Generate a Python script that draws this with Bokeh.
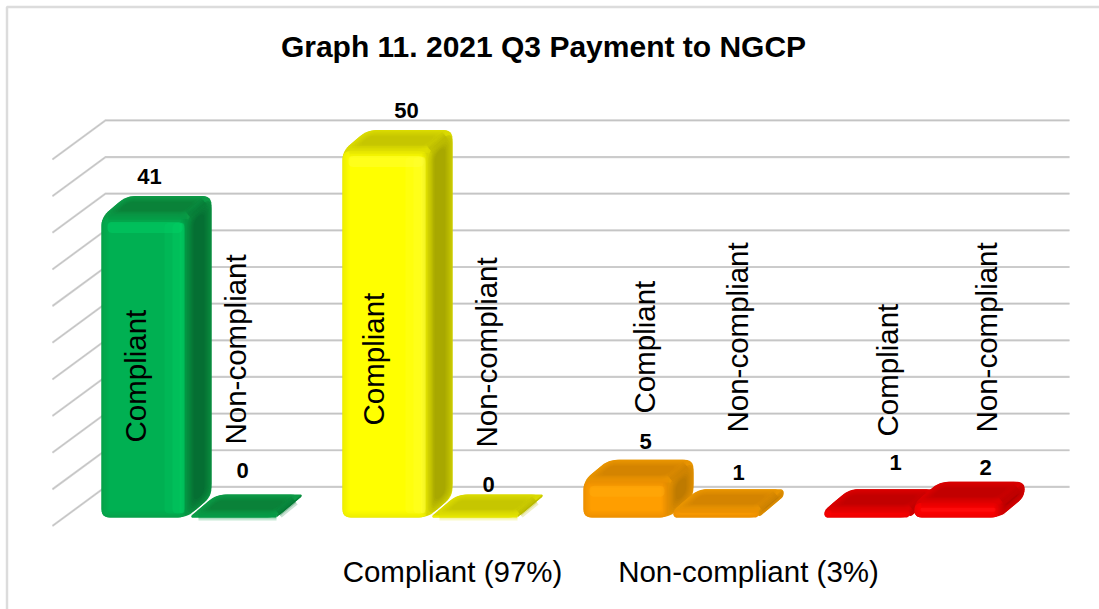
import math
from bokeh.plotting import figure
from bokeh.models import Range1d, ColumnDataSource
from bokeh.core.properties import value
from bokeh.embed import file_html
from bokeh.resources import INLINE

title_text = "Graph 11. 2021 Q3 Payment to NGCP"
series_names = ["Compliant", "Non-compliant"]
compliant_values = [41, 50, 5, 1]
noncompliant_values = [0, 0, 1, 2]
group_labels = ["Compliant (97%)", "Non-compliant (3%)"]
grid_ticks = [0, 5, 10, 15, 20, 25, 30, 35, 40, 45, 50]

# (edge, centre) colours of front; top; side per group
palettes = [
    (("#06A24A", "#00B052"), ("#0C9A46", "#0A8239"), ("#0A8A3E", "#056F33")),
    (("#EFEF00", "#FFFF00"), ("#DADA00", "#C6C600"), ("#C8C800", "#A8A800")),
    (("#EE9000", "#FF9E00"), ("#E89400", "#D48400"), ("#DC8C00", "#BE7A00")),
    (("#F00000", "#FF0000"), ("#DA0000", "#C20000"), ("#D00000", "#B00000")),
]
highlights = ["#00D868", "#FFFF40", "#FFB010", "#FF1818"]

# layout: picture pixels <-> data units
PXX, PXY = 90.0, 7.33
X0, Y0 = 101.0, 517.0
W, H = 1099, 609
def ux(px): return (px - X0) / PXX
def uy(py): return (Y0 - py) / PXY

GROUP_STEP = 241 / PXX
BAR_W, DX, DY = 85, 25, 21
BACK_DY = Y0 - 486.4
WALL_DX, WALL_DY = 53, 39
GRID_X0, GRID_X1 = 105, 1069
LAYERS = 7


def mix(a, b, t):
    ca = [int(a[i:i + 2], 16) for i in (1, 3, 5)]
    cb = [int(b[i:i + 2], 16) for i in (1, 3, 5)]
    return "#%02X%02X%02X" % tuple(round(x + (y - x) * t) for x, y in zip(ca, cb))


def rounded(pts, r):
    out = []
    n = len(pts)
    for i in range(n):
        p, a, b = pts[i], pts[i - 1], pts[(i + 1) % n]
        la = math.dist(p, a) or 1
        lb = math.dist(p, b) or 1
        rr = min(r, la / 2, lb / 2)
        s = (p[0] + (a[0] - p[0]) * rr / la, p[1] + (a[1] - p[1]) * rr / la)
        e = (p[0] + (b[0] - p[0]) * rr / lb, p[1] + (b[1] - p[1]) * rr / lb)
        for k in range(7):
            t = k / 6
            out.append(((1 - t) ** 2 * s[0] + 2 * t * (1 - t) * p[0] + t ** 2 * e[0],
                        (1 - t) ** 2 * s[1] + 2 * t * (1 - t) * p[1] + t ** 2 * e[1]))
    return out


def inset(o, e1, e2, t):
    l1, l2 = math.hypot(*e1), math.hypot(*e2)
    f1, f2 = min(t / l1, .45), min(t / l2, .45)
    a = (o[0] + e1[0] * f1 + e2[0] * f2, o[1] + e1[1] * f1 + e2[1] * f2)
    b = (a[0] + e1[0] * (1 - 2 * f1), a[1] + e1[1] * (1 - 2 * f1))
    c = (b[0] + e2[0] * (1 - 2 * f2), b[1] + e2[1] * (1 - 2 * f2))
    d = (a[0] + e2[0] * (1 - 2 * f2), a[1] + e2[1] * (1 - 2 * f2))
    return [a, b, c, d]


xs, ys, cols, alphas = [], [], [], []
def add(pts, col, alpha=1.0):
    xs.append([ux(q[0]) for q in pts])
    ys.append([uy(q[1]) for q in pts])
    cols.append(col)
    alphas.append(alpha)

def face(o, e1, e2, pair, r, step=1.6):
    for i in range(LAYERS):
        add(rounded(inset(o, e1, e2, i * step), max(r - i, 1)), mix(pair[0], pair[1], i / (LAYERS - 1)))

def seam(a, b, col):
    # soft transition along a face boundary
    for w, al in ((5, .22), (3, .3), (1.5, .4)):
        nx, ny = b[1] - a[1], a[0] - b[0]
        l = math.hypot(nx, ny) or 1
        nx, ny = nx / l * w, ny / l * w
        add([(a[0] + nx, a[1] + ny), (b[0] + nx, b[1] + ny), (b[0] - nx, b[1] - ny), (a[0] - nx, a[1] - ny)], col, al)

def bar(slot, v, pal, hi):
    x0 = X0 + slot * PXX
    h = max(v * PXY, 2)
    tf = Y0 - h
    x1 = x0 + BAR_W
    sil = [(x0, Y0), (x0, tf), (x0 + DX, tf - DY), (x1 + DX, tf - DY), (x1 + DX, Y0 - DY), (x1, Y0)]
    add(rounded(sil, 9), pal[1][0])
    face((x1, tf), (DX, -DY), (0, h), pal[2], 13)
    face((x0, tf), (BAR_W, 0), (DX, -DY), pal[1], 11)
    face((x0, tf), (BAR_W, 0), (0, h), pal[0], 8, step=1.2)
    m = mix(pal[0][1], pal[1][1], .5)
    seam((x0 + 7, tf), (x1, tf), m)
    if h > 8:
        seam((x1, tf + 2), (x1, Y0 - 3), mix(pal[0][1], pal[2][1], .5))
    seam((x1 + 2, tf - 2), (x1 + DX - 7, tf - DY + 6), mix(pal[1][1], pal[2][1], .5))
    if h > 12:
        add(rounded([(x0 + 6, tf + 5), (x1 - 4, tf + 5), (x1 - 4, tf + min(16, h * .6)), (x0 + 6, tf + min(16, h * .6))], 5), hi, 0.4)
    if h > 60:
        for w, al in ((22, .2), (14, .25), (7, .3)):
            add(rounded([(x1 - w, tf + 6), (x1 - 2, tf + 6), (x1 - 2, Y0 - 4), (x1 - w, Y0 - 4)], 5), hi, al)

for g in range(len(compliant_values)):
    bar(g * GROUP_STEP, compliant_values[g], palettes[g], highlights[g])
    bar(g * GROUP_STEP + 1, noncompliant_values[g], palettes[g], highlights[g])

p = figure(width=W, height=H, output_backend="svg", toolbar_location=None,
           x_range=Range1d(ux(0), ux(W)), y_range=Range1d(uy(H), uy(0)),
           min_border=0, outline_line_color=None,
           background_fill_color="white", border_fill_color="white")
p.axis.visible = False
p.grid.visible = False

# chart frame
p.line([ux(6.5), ux(6.5), ux(W)], [uy(H), uy(6.5), uy(6.5)], line_color="#DCDCDC", line_width=2.5)

# gridlines: back wall + side wall
back = [t + BACK_DY / PXY for t in grid_ticks]
gx = [[ux(GRID_X0 - WALL_DX), ux(GRID_X0), ux(GRID_X1)] for _ in grid_ticks]
gy = [[b - WALL_DY / PXY, b, b] for b in back]
p.multi_line(gx, gy, line_color="#D6D6D6", line_width=2.2, line_join="miter")
p.multi_line(gx, gy, line_color="#BDBDBD", line_width=0.8, line_join="miter")

src = ColumnDataSource(dict(xs=xs, ys=ys, c=cols, a=alphas))
p.patches("xs", "ys", source=src, fill_color="c", fill_alpha="a", line_color=None)

FONT = value("Liberation Sans")
def txt(x, y, s, size, bold=False, angle=0.0, align="center", base="middle"):
    p.text([ux(x)], [uy(y)], text=[s], text_font=FONT, text_font_size=size, angle=angle,
           text_font_style="bold" if bold else "normal", text_align=align,
           text_baseline=base, text_color="black")

txt(543, 46, title_text, "30px", bold=True)

# rotated series labels (bottom end of the text)
rot = [(135, 442, 0), (235, 444, 1), (373, 425, 0), (486, 447, 1),
       (644, 413, 0), (737, 432, 1), (887, 436, 0), (986, 432, 1)]
for x, y, i in rot:
    txt(x, y, series_names[i], "29.5px", angle=math.pi / 2, align="left")

# value labels
val_pos = [(149, 176), (242, 470), (406, 110), (488, 484), (645, 441), (738, 472), (895, 462), (985, 467)]
vals = [v for pair in zip(compliant_values, noncompliant_values) for v in pair]
for (x, y), v in zip(val_pos, vals):
    txt(x, y, str(v), "22px", bold=True)

txt(452, 571, group_labels[0], "29.5px")
txt(748, 571, group_labels[1], "29.5px")

open("out.html", "w").write(file_html(p, INLINE))
